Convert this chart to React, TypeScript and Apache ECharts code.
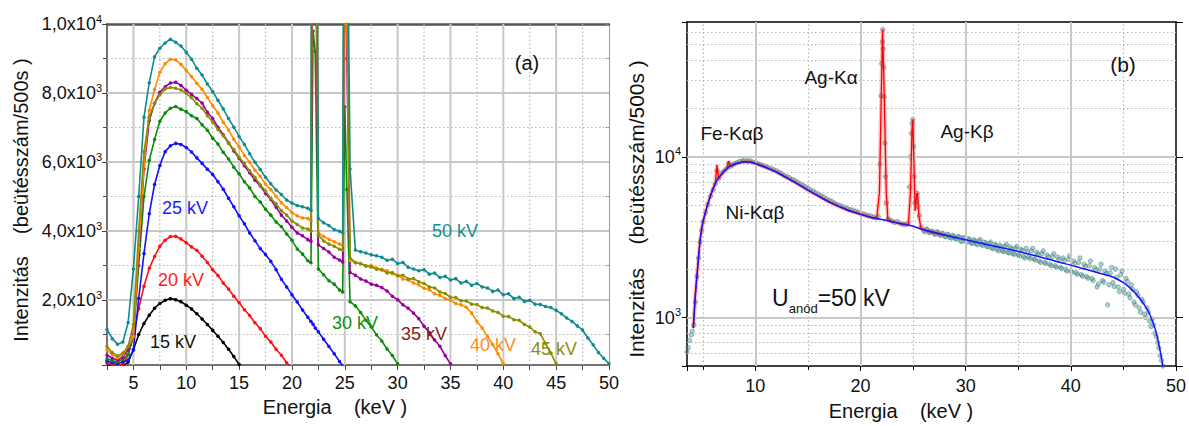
import React, { useEffect, useRef } from "react";
import * as echarts from "echarts";

const FONT = "'Liberation Sans', Arial, Helvetica, sans-serif";

// ---------- Panel (a): spectra for different anode voltages ----------
const ENERGY_A = [2.5, 3, 3.5, 4, 4.5, 5, 5.5, 6, 6.5, 7, 7.5, 8, 8.5, 9, 9.5, 10, 10.5, 11, 11.5, 12, 12.5, 13, 13.5, 14, 14.5, 15, 15.5, 16, 16.5, 17, 17.5, 18, 18.5, 19, 19.5, 20, 20.5, 21, 21.5, 21.8, 22, 22.2, 22.5, 23, 23.5, 24, 24.5, 24.8, 25, 25.2, 25.5, 26, 26.5, 27, 27.5, 28, 28.5, 29, 29.5, 30, 30.5, 31, 31.5, 32, 32.5, 33, 33.5, 34, 34.5, 35, 35.5, 36, 36.5, 37, 37.5, 38, 38.5, 39, 39.5, 40, 40.5, 41, 41.5, 42, 42.5, 43, 43.5, 44, 44.5, 45, 45.5, 46, 46.5, 47, 47.5, 48, 48.5, 49, 49.5, 50];

const KV15 = [110, 90, 70, 80, 200, 560, 1000, 1320, 1560, 1760, 1900, 1990, 2040, 2010, 1950, 1850, 1740, 1600, 1450, 1290, 1120, 950, 770, 570, 360, 130];
const KV20 = [180, 140, 110, 130, 420, 960, 1750, 2400, 2920, 3260, 3560, 3730, 3840, 3850, 3770, 3660, 3540, 3440, 3270, 3090, 2880, 2710, 2490, 2320, 2110, 1930, 1720, 1550, 1340, 1170, 950, 780, 570, 400, 180, 20];
const KV25 = [230, 190, 160, 200, 260, 560, 2050, 3350, 4500, 5350, 5900, 6300, 6470, 6540, 6510, 6420, 6290, 6120, 5960, 5790, 5640, 5430, 5210, 4950, 4700, 4440, 4210, 3940, 3720, 3490, 3320, 3120, 2880, 2600, 2380, 2150, 1940, 1710, 1500, 1380, 1300, 1190, 1080, 860, 650, 440, 220, 100, 10];
const KV30 = [300, 240, 210, 280, 420, 950, 3000, 5000, 6050, 6650, 7180, 7420, 7560, 7610, 7530, 7460, 7340, 7260, 7080, 6920, 6690, 6520, 6280, 6090, 5850, 5660, 5430, 5250, 5000, 4840, 4630, 4460, 4260, 4130, 3910, 3730, 3480, 3330, 3140, 3080, 9800, 9200, 2900, 2730, 2560, 2460, 2290, 2230, 7600, 5200, 1950, 1830, 1640, 1410, 1220, 990, 810, 580, 390, 150];
const KV35 = [400, 310, 260, 340, 560, 1000, 3300, 5800, 7200, 7700, 8020, 8180, 8290, 8310, 8220, 8080, 7960, 7840, 7710, 7440, 7260, 7010, 6790, 6560, 6320, 6110, 5890, 5690, 5470, 5310, 5090, 4910, 4690, 4460, 4290, 4110, 3940, 3860, 3750, 3700, 16000, 14000, 3600, 3490, 3390, 3240, 3160, 3100, 12500, 9000, 2800, 2720, 2610, 2550, 2460, 2430, 2360, 2260, 2110, 2010, 1860, 1760, 1620, 1460, 1240, 1060, 840, 660, 390, 150];
const KV40 = [550, 420, 330, 420, 650, 940, 3500, 5900, 7500, 8100, 8600, 8850, 8980, 8960, 8830, 8650, 8480, 8280, 8110, 7870, 7640, 7420, 7150, 6930, 6660, 6440, 6190, 5990, 5760, 5590, 5360, 5200, 5010, 4820, 4680, 4530, 4440, 4380, 4360, 4300, 22000, 18000, 3950, 3840, 3760, 3690, 3620, 3590, 15000, 10000, 3150, 3080, 3050, 2980, 3000, 2930, 2880, 2850, 2760, 2720, 2610, 2580, 2490, 2440, 2340, 2300, 2180, 2140, 2040, 1990, 1900, 1860, 1790, 1620, 1380, 1190, 940, 710, 440, 150];
const KV45 = [650, 480, 380, 460, 660, 1300, 4000, 6300, 7300, 7700, 7950, 8120, 8160, 8140, 8090, 7990, 7860, 7690, 7560, 7340, 7160, 6940, 6760, 6540, 6360, 6140, 5960, 5740, 5560, 5340, 5160, 4940, 4790, 4590, 4460, 4290, 4190, 4090, 4060, 4000, 28000, 22000, 3880, 3710, 3620, 3560, 3470, 3450, 18000, 12000, 3220, 3090, 3060, 2990, 2960, 2890, 2880, 2780, 2800, 2700, 2720, 2610, 2620, 2530, 2480, 2380, 2350, 2230, 2190, 2080, 2070, 1980, 1970, 1880, 1870, 1780, 1770, 1680, 1640, 1530, 1520, 1430, 1410, 1290, 1220, 1080, 1020, 740, 460, 150];
const KV50 = [1150, 880, 720, 780, 1350, 2900, 5000, 7300, 8300, 9050, 9300, 9450, 9560, 9470, 9360, 9180, 8980, 8720, 8520, 8260, 8040, 7790, 7540, 7260, 7010, 6740, 6510, 6240, 5990, 5780, 5560, 5370, 5190, 5060, 4900, 4810, 4740, 4700, 4660, 4600, 35000, 30000, 4360, 4240, 4160, 4040, 3990, 3950, 25000, 15000, 5800, 3450, 3400, 3360, 3310, 3280, 3240, 3150, 3180, 3060, 3090, 2950, 2900, 2850, 2880, 2750, 2780, 2650, 2690, 2580, 2620, 2490, 2540, 2430, 2480, 2380, 2350, 2250, 2290, 2150, 2180, 2040, 2080, 1960, 1990, 1880, 1870, 1810, 1780, 1700, 1600, 1480, 1380, 1250, 1130, 900, 700, 480, 310, 160];

const SERIES_A = [KV15, KV20, KV25, KV30, KV35, KV40, KV45, KV50];
const NAMES_A = ["15 kV", "20 kV", "25 kV", "30 kV", "35 kV", "40 kV", "45 kV", "50 kV"];
const COLORS_A = ["#000000", "#ff1010", "#1010ff", "#0a8a0a", "#990099", "#ff8a00", "#8c8c00", "#108c8c"];
const LABEL_COLORS_A = ["#111111", "#ff1a1a", "#1a1aff", "#109010", "#8b1a1a", "#ff8c1a", "#8c8c10", "#109090"];

// axis ranges
const X_RANGE_A = [2.5, 50];
const Y_RANGE_A = [116, 10000];
const X_RANGE_B = [3.5, 50];
const Y_RANGE_B = [500, 69000];

// ---------- Panel (b): 50 kV spectrum, log scale ----------
const MEASURED_B: [number, number][] = [
  [3.5, 610], [3.6, 650], [3.75, 720], [3.9, 780], [4.0, 820], [4.15, 900], [4.3, 1250], [4.45, 1800], [4.6, 2350], [4.75, 2950], [4.9, 3500], [5.05, 3950], [5.25, 4500], [5.5, 5050], [5.75, 5700], [6.0, 6250], [6.2, 6800], [6.35, 8200], [6.5, 7300], [6.75, 7900], [7.0, 8150], [7.25, 8450], [7.45, 9100], [7.6, 8700], [7.8, 8900], [8.0, 9050], [8.25, 9200], [8.5, 9350], [8.75, 9450], [9.0, 9500], [9.25, 9420], [9.5, 9450], [9.75, 9300], [10.0, 9220], [10.25, 9080], [10.5, 8950], [10.75, 8830], [11.0, 8720], [11.25, 8580], [11.5, 8450], [11.75, 8320], [12.0, 8180], [12.25, 8020], [12.5, 7870], [12.75, 7680], [13.0, 7530], [13.25, 7410], [13.5, 7230], [13.75, 7120], [14.0, 6960], [14.25, 6810], [14.5, 6660], [14.75, 6520], [15.0, 6380], [15.25, 6230], [15.5, 6110], [15.75, 5970], [16.0, 5860], [16.25, 5720], [16.5, 5620], [16.75, 5470], [17.0, 5370], [17.25, 5290], [17.5, 5160], [17.75, 5060], [18.0, 5000], [18.25, 4920], [18.5, 4860], [18.75, 4760], [19.0, 4700], [19.25, 4660], [19.5, 4600], [19.75, 4520], [20.0, 4460], [20.25, 4410], [20.5, 4360], [20.75, 4300], [21.0, 4290], [21.25, 4210], [21.5, 4170], [21.7, 4250], [21.85, 9000], [21.95, 24000], [22.02, 38000], [22.08, 52000], [22.12, 62000], [22.16, 47000], [22.2, 36000], [22.25, 23700], [22.32, 12200], [22.38, 7550], [22.45, 5170], [22.6, 4100], [22.75, 4060], [23.0, 3990], [23.25, 3910], [23.5, 3960], [23.75, 3860], [24.0, 3810], [24.25, 3790], [24.5, 3860], [24.65, 6500], [24.75, 10000], [24.85, 14000], [24.92, 16200], [24.98, 17100], [25.04, 11600], [25.1, 7550], [25.16, 5180], [25.3, 5300], [25.38, 5960], [25.46, 4910], [25.6, 4300], [25.75, 3640],
  [26, 3480], [26.25, 3560], [26.5, 3400], [26.75, 3450], [27, 3330], [27.25, 3420], [27.5, 3280], [27.75, 3350], [28, 3200], [28.25, 3300], [28.5, 3150], [28.75, 3250], [29, 3100], [29.25, 3200], [29.5, 3000], [29.75, 3150], [30, 2980], [30.25, 3100], [30.5, 2920], [30.75, 3050], [31, 2880], [31.25, 3000], [31.5, 2850], [31.75, 2950], [32, 2780], [32.25, 2900], [32.5, 2700], [32.75, 2850], [33, 2650], [33.25, 2820], [33.5, 2600], [33.75, 2780], [34, 2550], [34.25, 2750], [34.5, 2500], [34.75, 2700], [35, 2450], [35.25, 2650], [35.5, 2400], [35.75, 2700], [36, 2380], [36.25, 2600], [36.5, 2320], [36.75, 2550], [37, 2250], [37.25, 2500], [37.5, 2200], [37.75, 2450], [38, 2150], [38.25, 2400], [38.5, 2100], [38.75, 2380], [39, 2050], [39.25, 2350], [39.5, 2000], [39.75, 2300], [40, 1950], [40.25, 2250], [40.5, 1900], [40.75, 2200], [41, 1850], [41.25, 2150], [41.5, 1800], [41.75, 2100], [42, 1750], [42.25, 2050], [42.5, 1550], [42.75, 2000], [43, 1700], [43.25, 1950], [43.5, 1200], [43.75, 1900], [44, 1650], [44.25, 2000], [44.5, 1550], [44.75, 1850], [45, 1500], [45.25, 1750], [45.5, 1400], [45.75, 1600], [46, 1250], [46.25, 1450], [46.5, 1150], [46.75, 1300], [47, 1050], [47.25, 1150], [47.5, 950], [47.75, 980], [48, 800], [48.25, 700], [48.5, 580], [48.75, 500],
];
const MEASURED_B2: [number, number][] = [
  [26.125, 3420], [26.375, 3520], [26.625, 3380], [26.875, 3430], [27.125, 3300], [27.375, 3390], [27.625, 3250], [27.875, 3320], [28.125, 3180], [28.375, 3270], [28.625, 3120], [28.875, 3200], [29.125, 3080], [29.375, 3170], [29.625, 2980], [29.875, 3110], [30.125, 2950], [30.375, 3060], [30.625, 2890], [30.875, 3000], [31.125, 2840], [31.375, 3060], [31.625, 2810], [31.875, 2920], [32.125, 2760], [32.375, 2950], [32.625, 2690], [32.875, 2820], [33.125, 2600], [33.375, 2750], [33.625, 2570], [33.875, 2850], [34.125, 2520], [34.375, 2680], [34.625, 2480], [34.875, 2780], [35.125, 2420], [35.375, 2620], [35.625, 2350], [35.875, 2560], [36.125, 2330], [36.375, 2700], [36.625, 2280], [36.875, 2480], [37.125, 2200], [37.375, 2600], [37.625, 2170], [37.875, 2380], [38.125, 2100], [38.375, 2500], [38.625, 2060], [38.875, 2300], [39.125, 2020], [39.375, 2260], [39.625, 1950], [39.875, 2420], [40.125, 1920], [40.375, 2180], [40.625, 1860], [40.875, 2350], [41.125, 1810], [41.375, 2080], [41.625, 1760], [41.875, 2250], [42.125, 1700], [42.375, 1980], [42.625, 1620], [42.875, 2150], [43.125, 1660], [43.375, 1880], [43.625, 1600], [43.875, 2050], [44.125, 1560], [44.375, 1780], [44.625, 1450], [44.875, 1950], [45.125, 1420], [45.375, 1680], [45.625, 1330], [45.875, 1500], [46.125, 1200], [46.375, 1380], [46.625, 1080], [46.875, 1250], [47.125, 1000], [47.375, 1080], [47.625, 880], [47.875, 900], [48.125, 760], [48.375, 650], [48.625, 540],
];

const FIT_E = [4.1, 4.3, 4.5, 4.75, 5, 5.5, 6, 6.5, 7, 7.5, 8, 8.5, 9, 9.5, 10, 11, 12, 13, 14, 15, 16, 17, 18, 19, 20, 21, 22, 23, 24, 25, 26, 27, 28, 29, 30, 31, 32, 33, 34, 35, 36, 37, 38, 39, 40, 41, 42, 43, 44, 45, 45.5, 46, 46.5, 47, 47.5, 48, 48.3, 48.6, 48.8];
const FIT_V = [860, 1400, 2000, 3050, 3900, 5150, 6400, 7400, 8100, 8650, 9000, 9200, 9330, 9300, 9100, 8600, 8050, 7400, 6800, 6200, 5700, 5250, 4900, 4600, 4400, 4200, 4080, 3950, 3820, 3700, 3520, 3380, 3260, 3150, 3050, 2950, 2850, 2760, 2670, 2580, 2490, 2390, 2300, 2200, 2120, 2030, 1950, 1870, 1790, 1650, 1560, 1450, 1330, 1200, 1050, 860, 720, 570, 480];

const PEAKFIT_E = [4.1, 4.3, 4.5, 4.75, 5, 5.5, 6, 6.2, 6.35, 6.5, 7, 7.3, 7.45, 7.6, 8, 8.5, 9, 9.5, 10, 11, 12, 13, 14, 15, 16, 17, 18, 19, 20, 21, 21.55, 21.8, 21.95, 22.1, 22.25, 22.45, 22.6, 23, 24, 24.55, 24.75, 24.9, 24.98, 25.08, 25.2, 25.35, 25.42, 25.55, 25.75, 26, 27, 28];
const PEAKFIT_V = [860, 1400, 2000, 3050, 3900, 5150, 6400, 6900, 8900, 7300, 8100, 8450, 9400, 8750, 9000, 9200, 9330, 9300, 9100, 8600, 8050, 7400, 6800, 6200, 5700, 5250, 4900, 4600, 4400, 4200, 4180, 6000, 20000, 62000, 25000, 6000, 4050, 3950, 3820, 3770, 6000, 15000, 17100, 9000, 4600, 5900, 5960, 4300, 3600, 3520, 3380, 3260];

// gridline positions
const MAJOR_X_A = [5, 10, 15, 20, 25, 30, 35, 40, 45];
const MINOR_X_A = [7.5, 12.5, 17.5, 22.5, 27.5, 32.5, 37.5, 42.5, 47.5];
const MAJOR_Y_A = [2000, 4000, 6000, 8000];
const MINOR_Y_A = [1000, 3000, 5000, 7000, 9000];
const MAJOR_X_B = [10, 20, 30, 40];
const MINOR_X_B = [5, 15, 25, 35, 45];
const MAJOR_Y_B = [1000, 10000];
const MINOR_Y_B = [600, 700, 800, 900, 2000, 3000, 4000, 5000, 6000, 7000, 8000, 9000, 20000, 30000, 40000, 50000, 60000];

const SOLID = { color: "#c8c8c8", width: 2, type: "solid" as const };
const DOTTED = { color: "#b4b4b4", width: 1.2, type: [1.5, 2.5] as any };

function gridSeries(xi: number, yi: number, z: number, mx: number[], nx: number[], my: number[], ny: number[]) {
  return {
    type: "line",
    xAxisIndex: xi,
    yAxisIndex: yi,
    data: [],
    silent: true,
    z,
    markLine: {
      silent: true,
      symbol: ["none", "none"],
      label: { show: false },
      emphasis: { disabled: true },
      data: [
        ...nx.map((v) => ({ xAxis: v, lineStyle: DOTTED })),
        ...ny.map((v) => ({ yAxis: v, lineStyle: DOTTED })),
        ...mx.map((v) => ({ xAxis: v, lineStyle: SOLID })),
        ...my.map((v) => ({ yAxis: v, lineStyle: SOLID })),
      ],
    },
  };
}

// vertical gridlines of panel (a): broken line series through the axes' own scales
function vGridSeries(xs: number[], style: any) {
  const data: any[] = [];
  xs.forEach((x) => {
    data.push([x, Y_RANGE_A[0]], [x, Y_RANGE_A[1]], ["-", "-"]);
  });
  return {
    type: "line", xAxisIndex: 0, yAxisIndex: 0, z: 1, silent: true, data,
    connectNulls: false, showSymbol: false, symbol: "none", clip: false,
    lineStyle: style, emphasis: { disabled: true },
  };
}

// horizontal gridlines of panel (a): custom series, positions via api.coord
function hGridCustom(ys: number[], dotted: boolean) {
  return {
    type: "custom",
    xAxisIndex: 0,
    yAxisIndex: 0,
    z: 1,
    silent: true,
    clip: false,
    data: ys.map((y) => [X_RANGE_A[0], y]),
    encode: { x: 0, y: 1 },
    renderItem: (params: any, api: any) => {
      const y = api.value(1);
      const p0 = api.coord([X_RANGE_A[0], y]);
      const p1 = api.coord([X_RANGE_A[1], y]);
      if (dotted) {
        return {
          type: "rect",
          shape: { x: p0[0], y: p0[1] - 0.6, width: p1[0] - p0[0], height: 1.2 },
          style: {
            fill: "none",
            stroke: null,
            // dotted look by a dashed stroke along a zero-fill thin rect
          },
          children: undefined,
          ignore: true,
        } as any;
      }
      return {
        type: "rect",
        shape: { x: p0[0], y: p0[1] - 1, width: p1[0] - p0[0], height: 2 },
        style: { fill: SOLID.color },
      };
    },
  };
}

// dotted horizontal lines as groups of short rects (one per dash), via api.coord
function hDotCustom(ys: number[]) {
  return {
    type: "custom",
    xAxisIndex: 0,
    yAxisIndex: 0,
    z: 1,
    silent: true,
    clip: false,
    data: ys.map((y) => [X_RANGE_A[0], y]),
    encode: { x: 0, y: 1 },
    renderItem: (params: any, api: any) => {
      const y = api.value(1);
      const p0 = api.coord([X_RANGE_A[0], y]);
      const p1 = api.coord([X_RANGE_A[1], y]);
      const children: any[] = [];
      for (let x = p0[0]; x < p1[0]; x += 4) {
        children.push({
          type: "rect",
          shape: { x, y: p0[1] - 0.6, width: 1.5, height: 1.2 },
          style: { fill: DOTTED.color },
        });
      }
      return { type: "group", children };
    },
  };
}

const sciLabel = (v: number) => {
  if (v < 1000) return "";
  const exp = Math.floor(Math.log10(v) + 1e-9);
  const mant = (v / Math.pow(10, exp)).toFixed(1).replace(".", ",");
  return `{m|${mant}x10}{e|${exp}}`;
};
const powLabel = (v: number) => {
  const l = Math.log10(v);
  const r = Math.round(l);
  if (Math.abs(l - r) > 1e-6) return "";
  return `{m|10}{e|${r}}`;
};
const richNum = {
  m: { fontSize: 18, fontFamily: FONT, color: "#111", lineHeight: 22 },
  e: { fontSize: 11, fontFamily: FONT, color: "#111", verticalAlign: "top" },
};

function txt(x: number, y: number, text: string, color: string, size: number, extra: any = {}) {
  return {
    type: "text",
    x,
    y,
    silent: true,
    z: 100,
    ...extra,
    style: {
      text,
      fill: color,
      fontSize: size,
      fontFamily: FONT,
      align: "center",
      verticalAlign: "middle",
      textAlign: "center",
      textVerticalAlign: "middle",
    },
  };
}

function buildOption() {
  const seriesA = SERIES_A.map((vals, k) => ({
    type: "line",
    name: NAMES_A[k],
    xAxisIndex: 0,
    yAxisIndex: 0,
    z: 2 + k,
    data: vals.map((v, i) => [ENERGY_A[i], v]),
    symbol: "circle",
    symbolSize: 3.5,
    showSymbol: true,
    clip: true,
    lineStyle: { color: COLORS_A[k], width: 1.6 },
    itemStyle: { color: COLORS_A[k] },
    emphasis: { disabled: true },
  }));

  const peakData = PEAKFIT_E.map((e, i) => [e, PEAKFIT_V[i]]);
  const fitData = FIT_E.map((e, i) => [e, FIT_V[i]]);

  const axisLabelA = { color: "#111", fontSize: 18, fontFamily: FONT };

  return {
    animation: false,
    backgroundColor: "#ffffff",
    grid: [
      { left: 107, top: 24, width: 502, height: 341 },
      { left: 687, top: 22, width: 490, height: 344 },
    ],
    xAxis: [
      {
        gridIndex: 0, type: "value", min: X_RANGE_A[0], max: X_RANGE_A[1], interval: 2.5, position: "bottom",
        axisLine: { show: true, lineStyle: { color: "#444", width: 1.5 } },
        axisTick: { show: true, length: 5, lineStyle: { color: "#444", width: 1 } },
        axisLabel: { ...axisLabelA, margin: 9, formatter: (v: number) => (Math.abs(v % 5) < 1e-6 ? String(v) : "") },
        splitLine: { show: false },
      },
      {
        gridIndex: 0, type: "value", min: X_RANGE_A[0], max: X_RANGE_A[1], interval: 2.5, position: "top",
        axisLine: { show: true, lineStyle: { color: "#555", width: 2.5 } },
        axisTick: { show: false }, axisLabel: { show: false }, splitLine: { show: false },
      },
      {
        gridIndex: 1, type: "value", min: X_RANGE_B[0], max: X_RANGE_B[1], splitNumber: 5, position: "bottom",
        axisLine: { show: true, lineStyle: { color: "#000", width: 1.5 } },
        axisTick: { show: true, length: 5, lineStyle: { color: "#000", width: 1 } },
        axisLabel: { ...axisLabelA, margin: 11, formatter: (v: number) => (Math.abs(v % 10) < 1e-6 ? String(v) : "") },
        splitLine: { show: false },
      },
      {
        gridIndex: 1, type: "value", min: X_RANGE_B[0], max: X_RANGE_B[1], splitNumber: 5, position: "top",
        axisLine: { show: true, lineStyle: { color: "#000", width: 1.5 } },
        axisTick: { show: false }, axisLabel: { show: false }, splitLine: { show: false },
      },
      {
        gridIndex: 1, type: "value", min: X_RANGE_B[0], max: X_RANGE_B[1], splitNumber: 10, minInterval: 5, maxInterval: 5, position: "bottom",
        axisLine: { show: false }, axisLabel: { show: false },
        axisTick: { show: true, length: 4, lineStyle: { color: "#000", width: 1 } },
        splitLine: { show: false },
      },
    ],
    yAxis: [
      {
        gridIndex: 0, type: "value", min: Y_RANGE_A[0], max: Y_RANGE_A[1], splitNumber: 5, position: "left",
        axisLine: { show: true, lineStyle: { color: "#444", width: 1.5 } },
        axisTick: { show: true, length: 5, lineStyle: { color: "#444", width: 1 } },
        minorTick: { show: true, splitNumber: 2, length: 4, lineStyle: { color: "#444", width: 1 } },
        axisLabel: { margin: 5, formatter: sciLabel, rich: richNum },
        splitLine: { show: false },
      },
      {
        gridIndex: 0, type: "value", min: Y_RANGE_A[0], max: Y_RANGE_A[1], splitNumber: 5, position: "right",
        axisLine: { show: true, lineStyle: { color: "#999", width: 1 } },
        axisTick: { show: true, inside: true, length: 4, lineStyle: { color: "#777" } },
        minorTick: { show: true, splitNumber: 2, length: 3, lineStyle: { color: "#777" } },
        axisLabel: { show: false }, splitLine: { show: false },
      },
      {
        gridIndex: 1, type: "log", logBase: 10, min: Y_RANGE_B[0], max: Y_RANGE_B[1], position: "left",
        axisLine: { show: true, lineStyle: { color: "#000", width: 1.5 } },
        axisTick: { show: true, length: 5, lineStyle: { color: "#000", width: 1 } },
        axisLabel: { margin: 6, formatter: powLabel, rich: richNum },
        splitLine: { show: false },
      },
      {
        gridIndex: 1, type: "log", logBase: 10, min: Y_RANGE_B[0], max: Y_RANGE_B[1], position: "right",
        axisLine: { show: true, lineStyle: { color: "#000", width: 1.5 } },
        axisTick: { show: true, length: 7, lineStyle: { color: "#000", width: 1 } },
        axisLabel: { show: false }, splitLine: { show: false },
      },
    ],
    series: [
      gridSeries(2, 2, 1, MAJOR_X_B, MINOR_X_B, MAJOR_Y_B, MINOR_Y_B),
      vGridSeries(MINOR_X_A, DOTTED),
      vGridSeries(MAJOR_X_A, SOLID),
      hDotCustom(MINOR_Y_A),
      hGridCustom(MAJOR_Y_A, false),
      ...seriesA,
      {
        type: "scatter", xAxisIndex: 2, yAxisIndex: 2, z: 3,
        data: [...MEASURED_B, ...MEASURED_B2],
        symbol: "circle", symbolSize: 4.5,
        itemStyle: { color: "rgba(70,145,145,0.55)", borderColor: "rgba(30,95,95,0.75)", borderWidth: 0.6 },
        emphasis: { disabled: true },
      },
      {
        type: "line", xAxisIndex: 2, yAxisIndex: 2, z: 4, data: peakData, showSymbol: false, symbol: "none",
        lineStyle: { color: "rgba(255,70,70,0.35)", width: 4 }, emphasis: { disabled: true },
      },
      {
        type: "line", xAxisIndex: 2, yAxisIndex: 2, z: 5, data: peakData, showSymbol: false, symbol: "none",
        lineStyle: { color: "#ff0000", width: 1.3 }, emphasis: { disabled: true },
      },
      {
        type: "line", xAxisIndex: 2, yAxisIndex: 2, z: 6, data: fitData, showSymbol: false, symbol: "none", smooth: 0.3,
        lineStyle: { color: "#1a10ff", width: 1.5 }, emphasis: { disabled: true },
      },
    ],
    graphic: [
      txt(173, 342, NAMES_A[0], LABEL_COLORS_A[0], 18),
      txt(181, 280, NAMES_A[1], LABEL_COLORS_A[1], 18),
      txt(185, 208, NAMES_A[2], LABEL_COLORS_A[2], 18),
      txt(355, 323, NAMES_A[3], LABEL_COLORS_A[3], 18),
      txt(424, 334, NAMES_A[4], LABEL_COLORS_A[4], 18),
      txt(493, 345, NAMES_A[5], LABEL_COLORS_A[5], 18),
      txt(554, 349, NAMES_A[6], LABEL_COLORS_A[6], 18),
      txt(455, 231, NAMES_A[7], LABEL_COLORS_A[7], 18),
      txt(527, 63, "(a)", "#111", 20),
      txt(335, 407, "Energia    (keV )", "#111", 20),
      txt(21, 200, "Intenzitás    (beütésszám/500s )", "#111", 20, { rotation: Math.PI / 2 }),
      txt(831, 77, "Ag-Kα", "#111", 19),
      txt(967, 131, "Ag-Kβ", "#111", 19),
      txt(732, 133, "Fe-Kαβ", "#111", 19),
      txt(755, 212, "Ni-Kαβ", "#111", 19),
      txt(1123, 64, "(b)", "#111", 21),
      txt(901, 411, "Energia    (keV )", "#111", 20),
      txt(636, 209, "Intenzitás    (beütésszám/500s )", "#111", 21, { rotation: Math.PI / 2 }),
      {
        type: "text", x: 831, y: 298, silent: true, z: 100,
        style: {
          text: "{u|U}{s|anód}{u|=50 kV}",
          align: "center", verticalAlign: "middle", textAlign: "center", textVerticalAlign: "middle",
          rich: {
            u: { fontSize: 23, fontFamily: FONT, fill: "#111", color: "#111", lineHeight: 34 },
            s: { fontSize: 13, fontFamily: FONT, fill: "#111", color: "#111", verticalAlign: "bottom", lineHeight: 14 },
          },
        },
      },
    ],
  };
}

export default function App() {
  const ref = useRef<HTMLDivElement>(null);
  useEffect(() => {
    if (!ref.current) return;
    const chart = echarts.init(ref.current, null, { renderer: "svg" });
    chart.setOption(buildOption() as any);
    return () => chart.dispose();
  }, []);
  return (
    <div
      ref={ref}
      style={{ position: "absolute", left: 0, top: 0, width: 1189, height: 426, background: "#fff" }}
    />
  );
}
